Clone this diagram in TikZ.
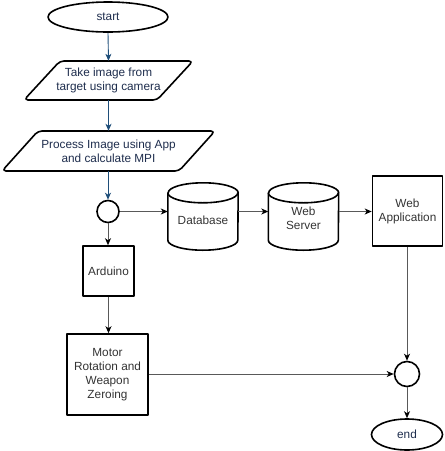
\documentclass[tikz,border=0pt]{standalone}
\usepackage{fontspec}
\setmainfont{Liberation Sans}
\usetikzlibrary{arrows.meta,shapes.geometric}
\definecolor{flowblue}{HTML}{1F4E79}
\definecolor{navytext}{HTML}{1E2D4D}
\definecolor{greytext}{HTML}{333333}
\definecolor{linegrey}{HTML}{595959}
% cylinder outline drawn inside the frame of an (invisible) node
\newcommand\cylpath[1]{%
  \draw[shapeline] ([yshift=-10pt]#1.north west) -- ([yshift=10pt]#1.south west)
    arc[start angle=180,end angle=360,x radius=35pt,y radius=10pt]
    -- ([yshift=-10pt]#1.north east)
    arc[start angle=0,end angle=180,x radius=35pt,y radius=10pt] -- cycle;
  \draw[shapeline] ([yshift=-10pt]#1.north west)
    arc[start angle=180,end angle=360,x radius=35pt,y radius=10pt];}
\begin{document}
\begin{tikzpicture}[x=1pt,y=1pt,line join=round,
  lbl/.style={font=\fontsize{11.8}{14}\selectfont, align=center, text=greytext, inner sep=0pt},
  shapeline/.style={draw=black, line width=1.6pt},
  terminal/.style={shapeline, ellipse, lbl, text=navytext},
  boxnode/.style={shapeline, rectangle, lbl},
  junction/.style={shapeline, circle, inner sep=0pt},
  flowarrow/.style={draw=flowblue, line width=0.9pt, -{Stealth[length=7pt,width=6pt,inset=2pt]}},
  link/.style={draw=linegrey, line width=0.9pt, -{Stealth[length=7pt,width=6pt,inset=2pt,black]}}]
\useasboundingbox (0,0) rectangle (445,-451);

% terminals
\node[terminal, minimum width=120pt, minimum height=30pt] (start) at (108,-17) {start};
\node[terminal, minimum width=71pt, minimum height=31pt] (stop) at (407,-434.5) {end};

% input / processing parallelograms
\node[lbl, text=navytext, minimum width=168pt, minimum height=39pt] (take) at (108.5,-80.5)
  {Take image from\\target using camera};
\draw[shapeline, rounded corners=4pt] (60,-61) -- (193,-61) -- (157,-100) -- (24,-100) -- cycle;
\node[lbl, text=navytext, minimum width=213pt, minimum height=40pt] (proc) at (108.5,-151)
  {Process Image using App\\and calculate MPI};
\draw[shapeline, rounded corners=4pt] (38,-131) -- (215,-131) -- (179,-171) -- (2,-171) -- cycle;

% junctions
\node[junction, minimum size=22pt] (j1) at (108,-211.5) {};
\node[junction, minimum size=25pt] (j2) at (407,-374) {};

% storage and server cylinders
\node[lbl, minimum width=70pt, minimum height=67pt] (db) at (203,-216.5) {};
\cylpath{db}
\node[lbl] at (203,-220) {Database};
\node[lbl, minimum width=70pt, minimum height=67pt] (ws) at (303.5,-216.5) {};
\cylpath{ws}
\node[lbl] at (303.5,-218) {Web\\Server};

% boxes
\node[boxnode, minimum width=70pt, minimum height=70pt] (app) at (407.5,-211) {Web\\Application};
\node[boxnode, minimum width=51pt, minimum height=50pt] (ard) at (108.5,-271) {Arduino};
\node[boxnode, minimum width=81pt, minimum height=81pt] (mot) at (107.5,-374.5)
  {Motor\\Rotation and\\Weapon\\Zeroing};

% connectors
\draw[flowarrow] (start.south) -- (take.north);
\draw[flowarrow] (take.south) -- (proc.north);
\draw[flowarrow] (proc.south -| j1.north) -- (j1.north);
\draw[link] (j1.east) -- (j1.east -| db.west);
\draw[link] (db.east |- j1.east) -- (ws.west |- j1.east);
\draw[link] (ws.east |- j1.east) -- (app.west |- j1.east);
\draw[link] (j1.south) -- (j1.south |- ard.north);
\draw[link] (ard.south) -- (ard.south |- mot.north);
\draw[link] (app.south -| j2.north) -- (j2.north);
\draw[link] (mot.east |- j2.west) -- (j2.west);
\draw[link] (j2.south) -- (stop.north);
\end{tikzpicture}
\end{document}
